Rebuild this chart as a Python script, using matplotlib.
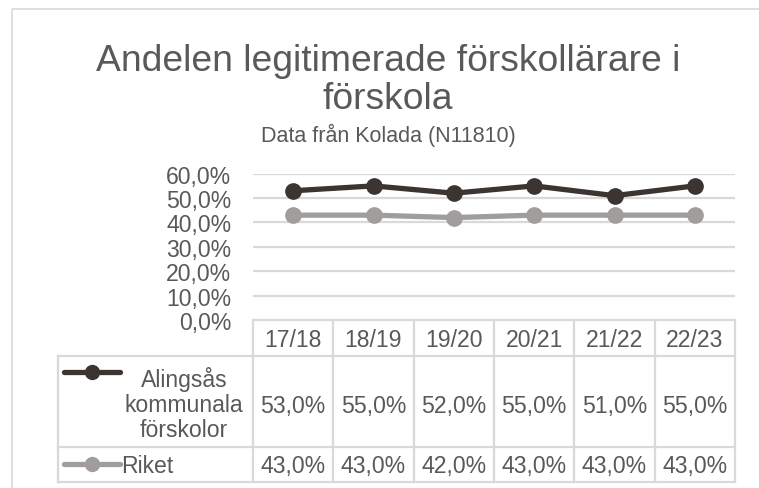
import matplotlib
matplotlib.use("Agg")
import matplotlib.pyplot as plt
from matplotlib.transforms import blended_transform_factory
from matplotlib.lines import Line2D
from matplotlib.patches import Rectangle

plt.rcParams['font.family'] = ['Liberation Sans', 'DejaVu Sans']

categories = ["17/18", "18/19", "19/20", "20/21", "21/22", "22/23"]
alingsas = [53.0, 55.0, 52.0, 55.0, 51.0, 55.0]
riket = [43.0, 43.0, 42.0, 43.0, 43.0, 43.0]
series_names = ["Alingsås\nkommunala\nförskolor", "Riket"]
title_line1 = "Andelen legitimerade förskollärare i"
title_line2 = "förskola"
subtitle = "Data från Kolada (N11810)"
yticks = [0, 10, 20, 30, 40, 50, 60]

W, H = 759, 489
TXT = "#595959"
GRID = "#d9d9d9"
C1 = "#3b3431"
C2 = "#a09d9c"
FS = 16.6

fig = plt.figure(figsize=(W / 100, H / 100), dpi=100)

# overlay axes in pixel coordinates
ov = fig.add_axes([0, 0, 1, 1])
ov.set_xlim(0, W)
ov.set_ylim(H, 0)
ov.axis("off")
ov.add_patch(Rectangle((12, 10), 800, 600, fill=False, edgecolor=GRID, lw=1.2))

# main plot axes
x0, x1, ytop, ybot = 253, 735, 174.7, 321
ax = fig.add_axes([x0 / W, (H - ybot) / H, (x1 - x0) / W, (ybot - ytop) / H])
ax.set_xlim(-0.5, len(categories) - 0.5)
ax.set_ylim(0, 60)
for s in ax.spines.values():
    s.set_visible(False)
ax.set_xticks([])
ax.set_yticks(yticks)
ax.set_yticklabels([f"{v:.1f}%".replace(".", ",") for v in yticks])
ax.tick_params(axis="y", length=0, pad=15.5, labelsize=FS, labelcolor=TXT)
ax.grid(axis="y", color=GRID, lw=1.6)
ax.set_axisbelow(True)
xs = list(range(len(categories)))
ax.plot(xs, riket, color=C2, lw=3.8, marker="o", ms=11, solid_capstyle="round", clip_on=False, zorder=3)
ax.plot(xs, alingsas, color=C1, lw=3.8, marker="o", ms=11, solid_capstyle="round", clip_on=False, zorder=4)

# titles
fig.text(388 / W, 1 - 71 / H, title_line1, ha="center", va="baseline", fontsize=26.8, color=TXT)
fig.text(388 / W, 1 - 109 / H, title_line2, ha="center", va="baseline", fontsize=26.8, color=TXT)
fig.text(388 / W, 1 - 142 / H, subtitle, ha="center", va="baseline", fontsize=15.5, color=TXT)

# data table
tr = blended_transform_factory(ax.transData, ov.transData)
n = len(categories)
lw_t = 1.6
for i in range(n + 1):
    ov.add_line(Line2D([i - 0.5, i - 0.5], [321, 483], color=GRID, lw=lw_t, transform=tr))
ov.add_line(Line2D([x0, x1], [321, 321], color=GRID, lw=lw_t))
for yy in (357, 448, 483):
    ov.add_line(Line2D([58, x1], [yy, yy], color=GRID, lw=lw_t))
ov.add_line(Line2D([58, 58], [357, 483], color=GRID, lw=lw_t))

for i, c in enumerate(categories):
    ov.text(i, 347, c, transform=tr, ha="center", va="baseline", fontsize=FS, color=TXT)
    ov.text(i, 413, f"{alingsas[i]:.1f}%".replace(".", ","), transform=tr, ha="center", va="baseline", fontsize=FS, color=TXT)
    ov.text(i, 473, f"{riket[i]:.1f}%".replace(".", ","), transform=tr, ha="center", va="baseline", fontsize=FS, color=TXT)

# row labels with legend keys
for j, line in enumerate(series_names[0].split("\n")):
    ov.text(184, 387 + 25 * j, line, ha="center", va="baseline", fontsize=FS, color=TXT)
ov.add_line(Line2D([64, 120], [373, 373], color=C1, lw=3.8, solid_capstyle="round"))
ov.plot([92], [373], marker="o", ms=10, color=C1)
ov.text(121, 473, series_names[1], ha="left", va="baseline", fontsize=FS, color=TXT)
ov.add_line(Line2D([64, 120], [465, 465], color=C2, lw=3.8, solid_capstyle="round"))
ov.plot([92], [465], marker="o", ms=10, color=C2)

fig.savefig("out.png", dpi=100)
